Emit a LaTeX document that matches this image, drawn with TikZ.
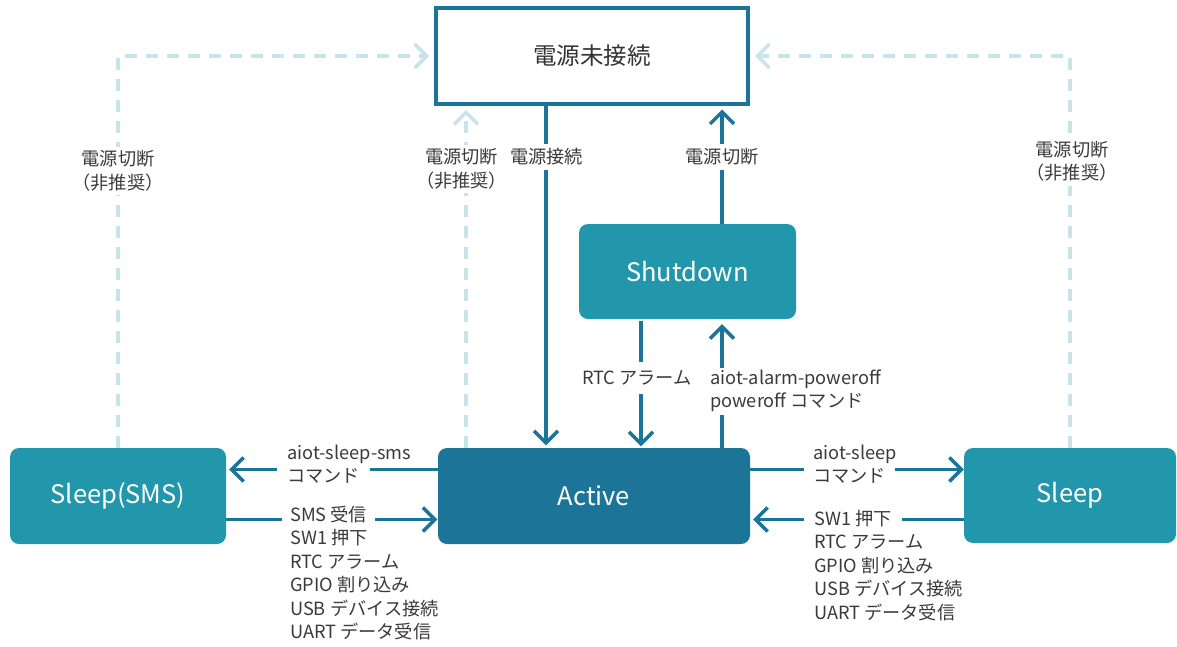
\documentclass[tikz,border=0pt]{standalone}
\usepackage{fontspec}
\newfontfamily\jp{Noto Sans CJK JP}
\usetikzlibrary{arrows.meta}
\definecolor{dblue}{RGB}{28,117,153}
\definecolor{tealbox}{RGB}{34,150,170}
\definecolor{lightdash}{RGB}{200,227,233}
\definecolor{txt}{RGB}{58,58,58}
\newcommand{\lines}[1]{\begin{tabular}[t]{@{}l@{}}#1\end{tabular}}
\tikzset{
  statebox/.style={rounded corners=9pt, fill=tealbox, text=white, inner sep=0pt,
    font=\jp\fontsize{25.5}{30}\selectfont},
  arr/.style={draw=dblue, line width=3.5pt, -{Straight Barb[length=12pt,width=24pt]}},
  darr/.style={draw=lightdash, line width=3.5pt, dash pattern=on 12pt off 9pt,
    -{Straight Barb[length=12pt,width=24pt]}},
  lbl/.style={font=\jp\fontsize{18.2}{23.5}\selectfont, text=txt, inner sep=0pt},
  gapv/.style={fill=white, inner xsep=3pt, inner ysep=5pt},
}
\begin{document}
\begin{tikzpicture}[x=1pt,y=-1pt]
\useasboundingbox (0,0) rectangle (1177,646);
% states
\node[draw=dblue, line width=4pt, fill=white, minimum width=312pt, minimum height=96pt,
  text=black!80, font=\jp\fontsize{23.5}{28}\selectfont, inner sep=0pt] (power) at (592,56) {電源未接続};
\node[statebox, minimum width=217pt, minimum height=95pt] (shutdown) at (687.5,271.5) {Shutdown};
\node[statebox, fill=dblue, minimum width=312pt, minimum height=96pt] (active) at (594,496) {Active};
\node[statebox, minimum width=216pt, minimum height=96pt] (sms) at (118,496) {Sleep(SMS)};
\node[statebox, minimum width=212pt, minimum height=95pt] (sleep) at (1070,495.5) {Sleep};
% helper coordinates
\coordinate (xa) at (546,0);
\coordinate (xb) at (722,0);
\coordinate (xc) at (641,0);
\coordinate (xd) at (466,0);
\coordinate (ya) at (0,469.5);
\coordinate (yb) at (0,519.5);
% dashed connectors
\draw[darr, shorten >=5pt] (sms.north) |- (power.west);
\draw[darr, shorten >=5pt] (sleep.north) |- (power.east);
\draw[darr, shorten >=4pt] (active.north -| xd) -- (power.south -| xd);
% solid connectors
\draw[arr, shorten >=2.5pt] (power.south -| xa) -- (active.north -| xa);
\draw[arr, shorten >=3.5pt] (shutdown.north -| xb) -- (power.south -| xb);
\draw[arr, shorten >=1.5pt, shorten <=1.5pt] (shutdown.south -| xc) -- (active.north -| xc);
\draw[arr, shorten >=5pt] (active.north -| xb) -- (shutdown.south -| xb);
\draw[arr, shorten >=3pt] (active.west |- ya) -- (sms.east |- ya);
\draw[arr, shorten >=0.5pt] (sms.east |- yb) -- (active.west |- yb);
\draw[arr] (active.east |- ya) -- (sleep.west |- ya);
\draw[arr, shorten >=3pt] (sleep.west |- yb) -- (active.east |- yb);
% labels on vertical connectors
\node[lbl, gapv] (lpc) at (546.5,157) {電源接続};
\node[lbl, gapv] (lpo) at (722,157) {電源切断};
\node[lbl, fill=white, inner xsep=3pt, inner ysep=9pt] (lrtc) at (637,378) {RTC アラーム};
\node[lbl, fill=white, inner xsep=2pt, anchor=base west] (lpoff) at (708,384)
  {\lines{aiot-alarm-poweroff\\poweroff コマンド}};
% dashed labels
\node[lbl, fill=white, align=center, inner xsep=3pt, inner ysep=4pt] (ld1) at (118,171) {電源切断\\（非推奨）};
\node[lbl, fill=white, align=center, inner xsep=3pt, inner ysep=4pt] (ld2) at (461.5,169) {電源切断\\（非推奨）};
\node[lbl, fill=white, align=center, inner xsep=3pt, inner ysep=4pt] (ld3) at (1072,161.5) {電源切断\\（非推奨）};
% left labels
\node[lbl, anchor=base west] (ls1) at (287,459) {aiot-sleep-sms};
\node[lbl, anchor=base west, fill=white, inner xsep=10pt, inner ysep=2pt] (ls2) at (277,482) {コマンド\hspace{4pt}};
\node[lbl, anchor=base west, fill=white, inner xsep=8pt, inner ysep=3pt] (lw1) at (282,521) {SMS 受信\hspace{10pt}};
\node[lbl, anchor=base west] (lw2) at (290,544.5)
  {\lines{SW1 押下\\RTC アラーム\\GPIO 割り込み\\USB デバイス接続\\UART データ受信}};
% right labels
\node[lbl, anchor=base west] (rs1) at (813,459) {aiot-sleep};
\node[lbl, anchor=base west, fill=white, inner xsep=9pt, inner ysep=2pt] (rs2) at (804,482) {コマンド\hspace{8pt}};
\node[lbl, anchor=base west, fill=white, inner xsep=10pt, inner ysep=3pt] (rw1) at (804,525) {SW1 押下\hspace{1pt}};
\node[lbl, anchor=base west] (rw2) at (814,548.5)
  {\lines{RTC アラーム\\GPIO 割り込み\\USB デバイス接続\\UART データ受信}};
\end{tikzpicture}
\end{document}
